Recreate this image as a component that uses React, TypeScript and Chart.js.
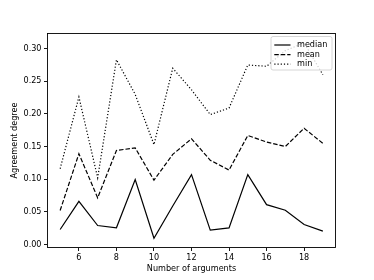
import React, { useEffect, useRef } from "react";
import { Chart, registerables } from "chart.js";

Chart.register(...registerables);

const xValues = [5, 6, 7, 8, 9, 10, 11, 12, 13, 14, 15, 16, 17, 18, 19];
const medianValues = [0.023, 0.066, 0.029, 0.0255, 0.0995, 0.0095, 0.059, 0.107, 0.022, 0.0255, 0.107, 0.061, 0.0525, 0.0305, 0.0205];
const meanValues = [0.052, 0.139, 0.0715, 0.144, 0.148, 0.0985, 0.138, 0.162, 0.129, 0.114, 0.167, 0.157, 0.15, 0.178, 0.155];
const minValues = [0.116, 0.226, 0.102, 0.283, 0.23, 0.153, 0.27, 0.237, 0.199, 0.209, 0.275, 0.273, 0.297, 0.309, 0.26];
const seriesLabels = ["median", "mean", "min"];
const yTicks = [0, 0.05, 0.1, 0.15, 0.2, 0.25, 0.3];
const xTicks = [6, 8, 10, 12, 14, 16, 18];

const FONT = "'DejaVu Sans', sans-serif";
const FS = 8.1;

const framePlugin = {
  id: "mplFrame",
  afterDatasetsDraw(chart: any) {
    const { ctx, chartArea } = chart;
    ctx.save();
    ctx.strokeStyle = "#000";
    ctx.lineWidth = 0.9;
    const l = Math.round(chartArea.left) + 0.5;
    const r = Math.round(chartArea.right) - 0.5;
    const t = Math.round(chartArea.top) + 0.5;
    const b = Math.round(chartArea.bottom) - 0.5;
    ctx.strokeRect(l, t, r - l, b - t);

    // legend
    const w = 61;
    const h = 33.5;
    const x0 = chartArea.right - 4 - w;
    const y0 = chartArea.top + 3.5;
    const rad = 2;
    ctx.beginPath();
    ctx.moveTo(x0 + rad, y0);
    ctx.lineTo(x0 + w - rad, y0);
    ctx.arcTo(x0 + w, y0, x0 + w, y0 + rad, rad);
    ctx.lineTo(x0 + w, y0 + h - rad);
    ctx.arcTo(x0 + w, y0 + h, x0 + w - rad, y0 + h, rad);
    ctx.lineTo(x0 + rad, y0 + h);
    ctx.arcTo(x0, y0 + h, x0, y0 + h - rad, rad);
    ctx.lineTo(x0, y0 + rad);
    ctx.arcTo(x0, y0, x0 + rad, y0, rad);
    ctx.closePath();
    ctx.fillStyle = "rgba(255,255,255,0.8)";
    ctx.fill();
    ctx.strokeStyle = "#cccccc";
    ctx.lineWidth = 0.8;
    ctx.stroke();

    chart.data.datasets.forEach((ds: any, i: number) => {
      const cy = y0 + 8.5 + i * 9.6;
      ctx.beginPath();
      ctx.setLineDash(ds.borderDash || []);
      ctx.lineWidth = ds.borderWidth;
      ctx.strokeStyle = ds.borderColor;
      ctx.lineCap = "butt";
      ctx.moveTo(x0 + 3.3, cy);
      ctx.lineTo(x0 + 19.5, cy);
      ctx.stroke();
      ctx.setLineDash([]);
      ctx.fillStyle = "#000";
      ctx.font = `${FS}px ${FONT}`;
      ctx.textAlign = "left";
      ctx.textBaseline = "middle";
      ctx.fillText(ds.label, x0 + 26, cy);
    });
    ctx.restore();
  },
};

export default function App() {
  const canvasRef = useRef<HTMLCanvasElement | null>(null);

  useEffect(() => {
    if (!canvasRef.current) return;
    const mk = (vals: number[]) => xValues.map((x, i) => ({ x, y: vals[i] }));
    const common = {
      borderColor: "#000",
      backgroundColor: "#000",
      borderWidth: 1.2,
      pointRadius: 0,
      pointHoverRadius: 0,
      fill: false,
      tension: 0,
      borderCapStyle: "butt" as const,
    };
    const chart = new Chart(canvasRef.current, {
      type: "line",
      data: {
        datasets: [
          { ...common, label: seriesLabels[0], data: mk(medianValues) },
          { ...common, label: seriesLabels[1], data: mk(meanValues), borderDash: [4.5, 1.95] },
          { ...common, label: seriesLabels[2], data: mk(minValues), borderDash: [1.2, 2.0] },
        ],
      },
      options: {
        animation: false,
        responsive: false,
        devicePixelRatio: 1,
        layout: { padding: { left: 0, top: 33, right: 38, bottom: 0 } },
        plugins: { legend: { display: false }, tooltip: { enabled: false } },
        scales: {
          x: {
            type: "linear",
            min: 4.3,
            max: 19.7,
            afterBuildTicks: (s: any) => {
              s.ticks = xTicks.map((v) => ({ value: v }));
            },
            afterFit: (s: any) => {
              s.height = 32;
            },
            grid: { drawOnChartArea: false, drawTicks: true, tickLength: 3, tickColor: "#000", tickWidth: 0.9 },
            border: { display: false },
            ticks: {
              color: "#000",
              font: { family: FONT, size: FS },
              padding: 2.5,
              maxRotation: 0,
              autoSkip: false,
              callback: (v: any) => String(v),
            },
            title: {
              display: true,
              text: "Number of arguments",
              color: "#000",
              font: { family: FONT, size: FS },
              padding: { top: 0, bottom: 5.8 },
            },
          },
          y: {
            type: "linear",
            min: -0.0054,
            max: 0.324,
            afterBuildTicks: (s: any) => {
              s.ticks = yTicks.map((v) => ({ value: v }));
            },
            afterFit: (s: any) => {
              s.width = 47;
            },
            grid: { drawOnChartArea: false, drawTicks: true, tickLength: 3, tickColor: "#000", tickWidth: 0.9 },
            border: { display: false },
            ticks: {
              color: "#000",
              font: { family: FONT, size: FS },
              padding: 2.5,
              autoSkip: false,
              callback: (v: any) => Number(v).toFixed(2),
            },
            title: {
              display: true,
              text: "Agreement degree",
              color: "#000",
              font: { family: FONT, size: FS },
              padding: { top: 10.1, bottom: 0 },
            },
          },
        },
      },
      plugins: [framePlugin],
    });
    return () => chart.destroy();
  }, []);

  return (
    <div style={{ position: "absolute", left: 0, top: 0, width: 374, height: 280, background: "#fff" }}>
      <canvas ref={canvasRef} width={374} height={280} style={{ display: "block", width: 374, height: 280 }} />
    </div>
  );
}
